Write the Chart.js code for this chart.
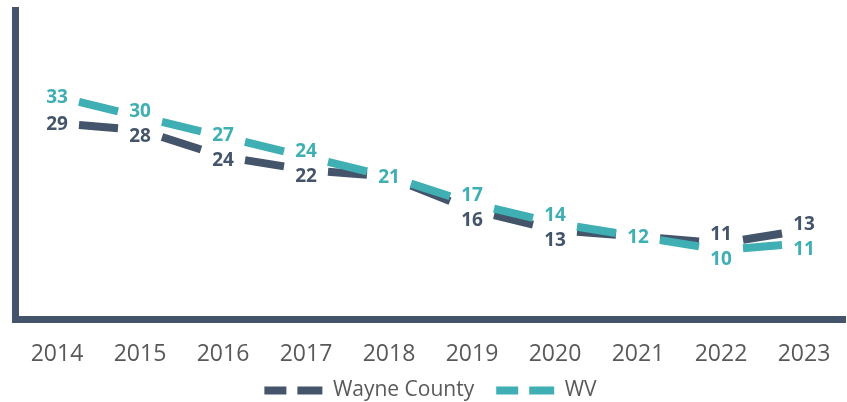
<!DOCTYPE html>
<html>
<head>
<meta charset="utf-8">
<script src="https://cdn.jsdelivr.net/npm/chart.js@4.4.1/dist/chart.umd.min.js"></script>
<style>
  html, body { margin: 0; padding: 0; background: #fff; }
  #wrap { width: 847px; height: 402px; }
</style>
</head>
<body>
<div id="wrap"><canvas id="rateChart"></canvas></div>
<script>
// values
const years = ['2014', '2015', '2016', '2017', '2018', '2019', '2020', '2021', '2022', '2023'];
const wayneCounty = [29, 28, 24, 22, 21, 16, 13, 12, 11, 13];
const westVirginia = [33, 30, 27, 24, 21, 17, 14, 12, 10, 11];

const DARK = '#44546A';
const TEAL = '#3FAFB3';
const GREY = '#595959';

// one dash per segment, leaving a gap round each point for the labels
function gapDash(ctx) {
  const dx = ctx.p1.x - ctx.p0.x;
  const dy = ctx.p1.y - ctx.p0.y;
  const len = Math.sqrt(dx * dx + dy * dy);
  const gap = len * 0.265;
  return [0, gap, len - 2 * gap, gap];
}

// value labels, pushed apart when the two series sit too close
const pointLabels = {
  id: 'pointLabels',
  afterDatasetsDraw(chart) {
    const ctx = chart.ctx;
    const wc = chart.getDatasetMeta(0).data;
    const wv = chart.getDatasetMeta(1).data;
    ctx.save();
    ctx.font = 'bold 19px "Open Sans"';
    ctx.textAlign = 'center';
    ctx.textBaseline = 'middle';
    years.forEach((yr, i) => {
      let ya = wc[i].y;
      let yb = wv[i].y;
      const same = wayneCounty[i] === westVirginia[i];
      const minGap = 25;
      if (!same && Math.abs(ya - yb) < minGap) {
        const mid = (ya + yb) / 2;
        const sign = ya > yb ? 1 : -1;
        ya = mid + sign * minGap / 2;
        yb = mid - sign * minGap / 2;
      }
      if (!same) {
        ctx.fillStyle = DARK;
        ctx.fillText(wayneCounty[i], wc[i].x, ya + 1);
      }
      ctx.fillStyle = TEAL;
      ctx.fillText(westVirginia[i], wv[i].x, yb + 1);
    });
    ctx.restore();
  }
};

// tighten the space the legend takes under the axis labels
const SHRINK = 31.5, LIFT = 22.5;
const legendSqueeze = {
  id: 'legendSqueeze',
  beforeInit(chart) {
    const legend = chart.legend;
    const fit = legend.fit.bind(legend);
    legend.fit = function () { fit(); this.height -= SHRINK; };
  },
  afterLayout(chart) {
    const legend = chart.legend;
    const full = legend.height + SHRINK;
    legend.top -= LIFT;
    legend.bottom = legend.top + full;
    legend.height = full;
  }
};

const ctx = document.getElementById('rateChart');
const rateChart = new Chart(ctx, {
  type: 'line',
  data: {
    labels: years,
    datasets: [{
      label: 'Wayne County',
      data: wayneCounty,
      borderColor: DARK,
      backgroundColor: DARK,
      borderWidth: 8,
      borderDash: [22, 11, 26, 60],
      pointRadius: 0,
      order: 1,
      segment: { borderDash: gapDash }
    }, {
      label: 'WV',
      data: westVirginia,
      borderColor: TEAL,
      backgroundColor: TEAL,
      borderWidth: 8,
      borderDash: [22, 11, 26, 60],
      pointRadius: 0,
      order: 0,
      segment: { borderDash: gapDash }
    }]
  },
  options: {
    responsive: true,
    maintainAspectRatio: false,
    animation: false,
    layout: { padding: { top: 10, left: 15.5, right: 1.5, bottom: 0 } },
    scales: {
      x: {
        offset: true,
        grid: { display: false, offset: true },
        border: { display: true, color: DARK, width: 7 },
        ticks: { color: GREY, font: { family: 'Open Sans', size: 23 }, padding: 12.5 }
      },
      y: {
        min: -0.5,
        max: 46,
        grid: { display: false, drawTicks: false },
        border: { display: true, color: DARK, width: 7 },
        ticks: { display: false }
      }
    },
    plugins: {
      legend: {
        position: 'bottom',
        labels: {
          usePointStyle: true,
          pointStyle: 'line',
          pointStyleWidth: 58,
          color: GREY,
          font: { family: 'Open Sans', size: 21 },
          padding: 22,
          sort: (a, b) => a.datasetIndex - b.datasetIndex,
          generateLabels(chart) {
            const items = Chart.defaults.plugins.legend.labels.generateLabels(chart);
            items.forEach(it => {
              const ds = chart.data.datasets[it.datasetIndex];
              it.lineDash = ds.borderDash;
              it.lineWidth = ds.borderWidth;
              it.strokeStyle = ds.borderColor;
            });
            return items;
          }
        }
      },
      tooltip: { enabled: false }
    }
  },
  plugins: [pointLabels, legendSqueeze]
});
</script>
</body>
</html>
